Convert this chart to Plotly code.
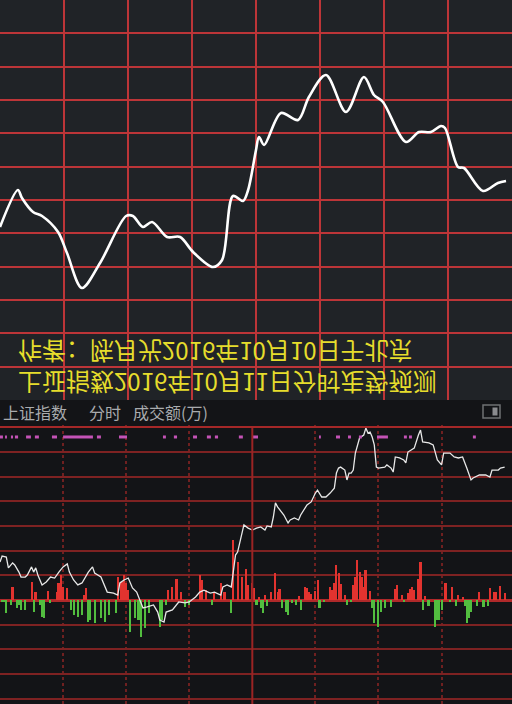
import plotly.graph_objects as go

# ---------------- data ----------------
# top panel: forecast curve (minute of session, grid units)
top_minutes = [0, 8.4, 10.3, 15.5, 19.7, 27.2, 31.4, 38.4, 46.9, 59.1, 62.3, 67.0, 71.3, 78.3,
               84.4, 90.5, 99.8, 104.1, 109.2, 113.9, 116.3, 120, 121.4, 123.8, 131.7, 139.7,
               144.8, 152.8, 162.2, 170.6, 175.3, 179.5, 190.3, 196.4, 202.0, 206.7, 208.6,
               214.7, 217.5, 226.4, 233.4, 237.2]
top_values = [5.19, 6.30, 6.06, 5.64, 5.52, 5.04, 4.41, 3.36, 4.11, 5.52, 5.52, 5.19, 5.34, 4.89,
              4.89, 4.44, 3.99, 4.20, 6.12, 5.97, 6.30, 7.50, 7.89, 7.65, 8.61, 8.40,
              9.09, 9.75, 8.64, 9.69, 9.15, 8.94, 7.74, 8.04, 8.04, 8.22, 8.16,
              6.99, 6.96, 6.27, 6.51, 6.57]

# bottom panel: actual intraday index line (minute, grid units relative to prev close)
price_minutes = [0, 1, 3, 4, 6, 7, 9, 10, 12, 13, 15, 16, 17, 18, 20, 22, 24, 26, 28, 30, 32, 33,
                 35, 37, 39, 42, 44, 45, 48, 50, 51, 54, 56, 57, 59, 61, 63, 65, 67, 68, 70, 73,
                 75, 76, 78, 79, 82, 85, 88, 90, 93, 95, 97, 100, 102, 105, 106, 108, 110, 112,
                 113, 114, 116, 118, 120, 122, 124, 126, 127, 129, 130, 131, 132, 135, 137, 138,
                 140, 142, 143, 146, 148, 150, 151, 153, 155, 157, 159, 160, 161, 162, 164, 165,
                 166, 167, 168, 169, 171, 173, 174, 175, 176, 177, 178, 179, 180, 183, 184, 186,
                 187, 188, 190, 192, 193, 194, 197, 199, 200, 201, 204, 206, 208, 210, 211, 214,
                 216, 218, 220, 222, 224, 225, 228, 231, 233, 234, 237, 238, 240]
price_values = [1.54, 1.78, 1.74, 1.30, 1.50, 1.42, 1.13, 0.93, 0.93, 1.01, 1.34, 1.13, 1.30, 1.01,
                0.61, 0.73, 0.93, 0.89, 1.13, 1.34, 1.46, 1.13, 0.81, 0.61, 0.69, 1.13, 1.34, 1.09,
                0.93, 0.49, 0.32, 0.28, 0.20, 0.69, 0.81, 0.89, 0.49, 0.32, -0.08, -0.32, -0.28,
                -0.20, -0.49, -0.81, -0.89, -0.49, -0.40, -0.08, -0.12, -0.08, 0.12, 0.32, 0.40,
                0.28, 0.32, 0.20, 0.53, 0.61, 0.53, 1.82, 1.94, 2.31, 3.04, 2.91, 2.83, 2.91, 2.96,
                2.83, 3.00, 2.96, 3.36, 3.93, 3.77, 3.44, 3.12, 3.24, 3.32, 3.24, 3.44, 3.85, 3.97,
                4.33, 4.45, 4.17, 4.17, 4.33, 4.53, 5.14, 5.34, 5.38, 5.26, 4.86, 5.14, 5.14, 5.26,
                5.95, 6.56, 6.68, 6.96, 6.76, 6.80, 6.60, 6.28, 5.38, 5.34, 5.38, 5.47, 5.34, 5.18,
                5.79, 5.75, 5.67, 5.55, 5.99, 6.15, 6.68, 6.88, 6.40, 6.36, 6.28, 5.67, 5.47, 5.95,
                5.95, 5.79, 5.75, 5.79, 5.34, 4.86, 4.94, 5.06, 5.06, 4.98, 5.26, 5.26, 5.34, 5.38]

# turnover bars (minute, signed height): positive = red, negative = green
vol_minutes = [6, 15, 17, 23, 27, 28, 29, 30, 32, 40, 41, 56, 58, 59, 60, 61, 80, 82, 84, 86, 95,
               96, 98, 102, 105, 107, 111, 113, 115, 117, 118, 120, 121, 123, 126, 129, 131, 132,
               133, 142, 145, 146, 147, 148, 150, 151, 157, 158, 159, 160, 161, 162, 164, 168,
               169, 170, 171, 172, 173, 174, 176, 188, 189, 191, 194, 195, 196, 197, 199, 200,
               202, 212, 215, 218, 220, 228, 233, 235, 236, 238, 240,
               1, 2, 3, 5, 8, 9, 10, 12, 16, 19, 20, 21, 24, 34, 35, 37, 39, 42, 43, 45, 48, 50,
               52, 55, 62, 64, 66, 67, 69, 71, 76, 77, 79, 88, 90, 101, 110, 122, 124, 125, 127,
               134, 136, 137, 139, 141, 143, 152, 154, 165, 167, 177, 178, 180, 181, 183, 186,
               192, 201, 204, 207, 208, 209, 210, 214, 217, 221, 222, 223, 224, 227, 230, 232]
vol_values = [0.53, 0.73, 0.32, 0.36, 0.32, 0.69, 1.01, 0.53, 0.49, 0.20, 0.49, 0.93, 0.73, 1.01,
              0.69, 0.40, 0.40, 0.53, 0.85, 0.32, 1.01, 0.81, 0.40, 0.28, 0.69, 0.32, 2.43, 1.54,
              0.93, 1.26, 0.61, 0.69, 0.49, 0.12, 0.20, 0.32, 1.09, 0.32, 0.45, 0.16, 0.53, 0.49,
              0.32, 0.24, 0.36, 0.81, 0.53, 0.40, 0.69, 1.42, 1.09, 0.65, 0.20, 0.61, 0.93, 1.62,
              1.13, 0.93, 0.53, 1.21, 0.36, 0.45, 0.61, 0.20, 0.28, 0.45, 0.53, 0.40, 0.85, 1.54,
              0.16, 0.69, 0.53, 0.20, 0.12, 0.32, 0.49, 0.32, 0.32, 0.57, 0.28,
              -0.08, -0.08, -0.53, -0.20, -0.32, -0.20, -0.40, -0.40, -0.49, -0.20, -0.69, -0.73,
              -0.12, -0.40, -0.61, -0.69, -0.61, -0.89, -0.81, -0.93, -0.73, -0.89, -0.61, -0.53,
              -1.30, -0.73, -0.81, -1.50, -1.13, -0.53, -1.09, -0.81, -0.20, -0.28, -0.20, -0.20,
              -0.53, -0.20, -0.32, -0.53, -0.24, -0.32, -0.49, -0.61, -0.12, -0.20, -0.40, -0.32,
              -0.10, -0.20, -0.10, -0.32, -0.93, -1.09, -0.49, -0.32, -0.28, -0.10, -0.40, -0.24,
              -1.09, -0.81, -0.81, -0.40, -0.10, -0.24, -0.24, -0.93, -0.73, -0.49, -0.24, -0.28,
              -0.24]

# magenta signal marks (start minute, end minute)
signal_starts = [0, 2.4, 5.2, 7.1, 12.4, 16.6, 24.7, 30, 46.1, 56.6, 77.5, 82.7, 91.8, 98.4,
                 102.2, 113.6, 120.3, 151.7, 159.8, 165.5, 170.7, 179.3, 192.1, 194.5, 224.9]
signal_ends = [1.4, 3.3, 6.2, 8.6, 14.7, 18.5, 27.1, 44.2, 48, 60.4, 78.9, 84.2, 93.7, 100.3,
               103.7, 115.5, 122.7, 152.6, 161.7, 166.9, 172.1, 184.5, 193.5, 195.9, 226.3]
signal_level = 6.6

title_line = "上证指数2016年10月11日分时走势预测"
author_line = "作者：陈月光2016年10月10日于北京"
header_labels = ["上证指数", "分时", "成交额(万)"]

# ---------------- figure ----------------
W, H = 512, 704
def px(x):
    return x / W
def py(y):
    return 1 - y / H

fig = go.Figure()

fig.add_trace(go.Scatter(x=top_minutes, y=top_values, mode="lines",
                         line=dict(color="#ffffff", width=2.6, shape="spline", smoothing=0.9),
                         xaxis="x", yaxis="y", hoverinfo="skip"))

bar_colors = ["#e2332f" if v > 0 else "#52bd3f" for v in vol_values]
fig.add_trace(go.Bar(x=vol_minutes, y=vol_values, marker=dict(color=bar_colors, line=dict(width=0)),
                     width=0.95, xaxis="x2", yaxis="y2", hoverinfo="skip"))

fig.add_trace(go.Scatter(x=price_minutes, y=price_values, mode="lines",
                         line=dict(color="#e8e8e8", width=1.3),
                         xaxis="x2", yaxis="y2", hoverinfo="skip"))

sx, sy = [], []
for s, e in zip(signal_starts, signal_ends):
    sx += [s, e, None]
    sy += [signal_level, signal_level, None]
fig.add_trace(go.Scatter(x=sx, y=sy, mode="lines", line=dict(color="#c453b6", width=3),
                         xaxis="x2", yaxis="y2", hoverinfo="skip"))

TOPGRID = "#bd3538"
shapes = [
    dict(type="rect", xref="paper", yref="paper", x0=0, x1=1, y0=py(400), y1=1,
         fillcolor="#202327", line=dict(width=0), layer="below"),
    dict(type="line", xref="x2", yref="paper", x0=120, x1=120, y0=0, y1=py(426),
         line=dict(color="#9b2424", width=2)),
    dict(type="line", xref="paper", yref="y2", x0=0, x1=1, y0=7, y1=7,
         line=dict(color="#a52828", width=2)),
    dict(type="rect", xref="paper", yref="paper", x0=px(483), x1=px(500), y0=py(418), y1=py(405),
         line=dict(color="#6f7073", width=1.5), fillcolor="rgba(0,0,0,0)"),
    dict(type="rect", xref="paper", yref="paper", x0=px(492.5), x1=px(497.5), y0=py(415.5), y1=py(407.5),
         line=dict(width=0), fillcolor="#8a8b8e"),
]

# the forecast caption is shown mirrored top-to-bottom (flipped in the page script below)
annotations = [
    dict(text=title_line + "<br>" + author_line, xref="paper", yref="paper", x=px(16), y=py(368),
         xanchor="left", yanchor="middle", align="left", showarrow=False,
         font=dict(family="Noto Sans CJK SC", size=24, color="#e6dd2c")),
]
for lbl, xpos in zip(header_labels, [1, 87, 131]):
    annotations.append(dict(text=lbl, xref="paper", yref="paper", x=px(xpos), y=py(412),
                            xanchor="left", yanchor="middle", showarrow=False,
                            font=dict(family="Noto Sans CJK SC", size=16, color="#a9abae")))

fig.update_layout(
    width=W, height=H, margin=dict(l=0, r=0, t=0, b=0),
    paper_bgcolor="#131417", plot_bgcolor="rgba(0,0,0,0)",
    showlegend=False, hovermode=False, bargap=0,
    xaxis=dict(domain=[0, 1], range=[0, 240], tickvals=list(range(0, 241, 30)),
               showgrid=True, gridcolor=TOPGRID, gridwidth=1.5, showticklabels=False,
               zeroline=False, anchor="y", fixedrange=True),
    yaxis=dict(domain=[py(400), 1], range=[0, 12], tickvals=list(range(0, 13)),
               showgrid=True, gridcolor=TOPGRID, gridwidth=1.5, showticklabels=False,
               zeroline=False, anchor="x", fixedrange=True),
    xaxis2=dict(domain=[0, 1], range=[0, 243.5], tickvals=[30, 60, 90, 150, 180, 210],
                showgrid=True, gridcolor="#6f2020", gridwidth=1.5, griddash="dot",
                showticklabels=False, zeroline=False, anchor="y2", fixedrange=True),
    yaxis2=dict(domain=[0, py(425)], range=[-104 / 24.7, 175 / 24.7], tickvals=list(range(-4, 8)),
                showgrid=True, gridcolor="#7e2222", gridwidth=2, showticklabels=False,
                zeroline=True, zerolinecolor="#b0292a", zerolinewidth=2.5,
                anchor="x2", fixedrange=True),
    shapes=shapes, annotations=annotations,
)

flip_js = """
document.body.style.margin = '0';
document.body.style.padding = '0';
document.body.style.background = '#131417';
function flipText(){
  document.querySelectorAll('.annotation-text').forEach(function(t){
    var s = t.textContent || '';
    if (s.indexOf('作者') >= 0) {
      t.style.transformBox = 'fill-box';
      t.style.transformOrigin = 'center';
      t.style.transform = 'scaleY(-1)';
    }
  });
}
flipText();
setTimeout(flipText, 50);
setTimeout(flipText, 400);
"""

fig.write_html("out.html", post_script=flip_js, config={"displayModeBar": False})
